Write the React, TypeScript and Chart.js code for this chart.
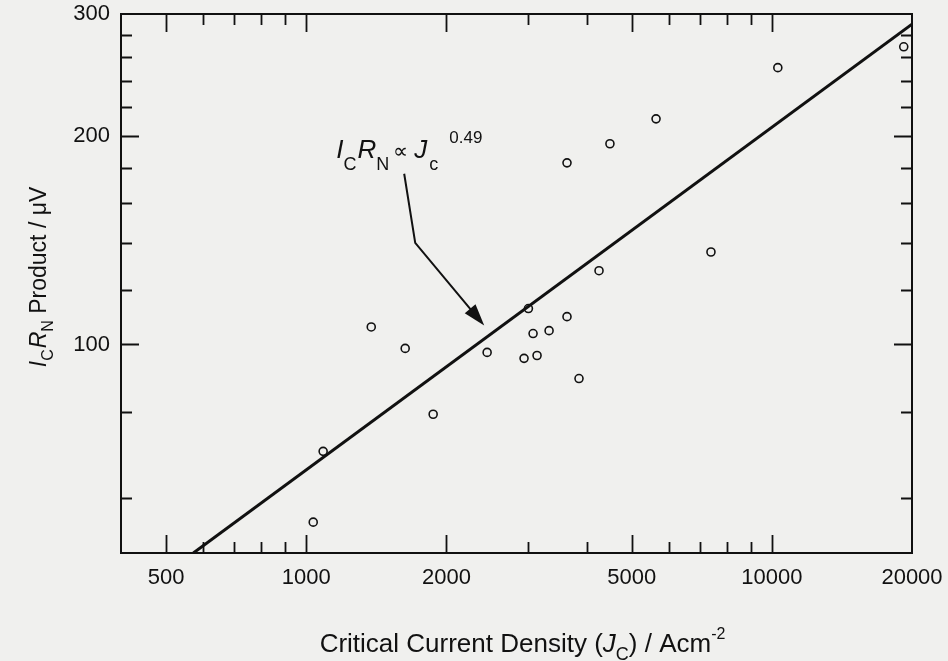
import React, { useEffect, useRef } from "react";
import { Chart, registerables } from "chart.js";

Chart.register(...registerables);

// ---- data ----
const currentDensity = [1087, 1035, 1379, 1631, 1873, 2446, 2936, 3000, 3070, 3131, 3323, 3631, 3853, 3631, 4254, 4490, 5640, 7400, 10300, 19200];
const icrnProduct = [70.1, 55.4, 106, 98.7, 79.3, 97.4, 95.5, 112.7, 103.7, 96.4, 104.7, 109.7, 89.3, 182.9, 127.8, 194.9, 211.7, 136, 251, 269];

const fitJc = [572, 20000];
const fitIcRn = [50, 290];

const xTickLabels = [500, 1000, 2000, 5000, 10000, 20000];
const yTickLabels = [100, 200, 300];
const xMajorTicks = [500, 1000, 2000, 5000, 10000];
const xMinorTicks = [600, 700, 800, 900, 3000, 4000, 6000, 7000, 8000, 9000];
const yMajorTicks = [100, 200];
const yMinorTicks = [60, 80, 120, 140, 160, 180, 220, 240, 260, 280];

// annotation anchors (data coordinates)
const arrowJc = [1623, 1714, 2411];
const arrowIcRn = [176.4, 140.2, 106.5];
const labelJc = 1160;
const labelIcRn = 185.9;

const FAM = '"Liberation Sans", Arial, Helvetica, sans-serif';
const INK = "#111111";
const PAPER = "#f0f0ee";

type Seg = { t: string; f: string; dy?: number; dx?: number };

function segsWidth(ctx: CanvasRenderingContext2D, segs: Seg[]) {
  let w = 0;
  for (const s of segs) {
    ctx.font = s.f;
    w += (s.dx || 0) + ctx.measureText(s.t).width;
  }
  return w;
}
function drawSegs(ctx: CanvasRenderingContext2D, segs: Seg[], x: number, y: number) {
  let cx = x;
  for (const s of segs) {
    ctx.font = s.f;
    cx += s.dx || 0;
    ctx.fillText(s.t, cx, y + (s.dy || 0));
    cx += ctx.measureText(s.t).width;
  }
}

const framePlugin = {
  id: "framePlugin",
  beforeDraw(chart: any) {
    const ctx = chart.ctx;
    ctx.save();
    ctx.fillStyle = PAPER;
    ctx.fillRect(0, 0, chart.width, chart.height);
    ctx.restore();
  },
  afterDraw(chart: any) {
    const ctx: CanvasRenderingContext2D = chart.ctx;
    const { left, right, top, bottom } = chart.chartArea;
    const xs = chart.scales.x;
    const ys = chart.scales.y;
    ctx.save();
    ctx.strokeStyle = INK;
    ctx.fillStyle = INK;
    ctx.lineWidth = 2;
    ctx.strokeRect(left, top, right - left, bottom - top);

    const MAJ = 18;
    const MIN = 11;
    ctx.lineWidth = 1.8;
    ctx.beginPath();
    const xt = (vals: number[], len: number) => {
      for (const v of vals) {
        const px = Math.round(xs.getPixelForValue(v)) + 0.5;
        ctx.moveTo(px, bottom);
        ctx.lineTo(px, bottom - len);
        ctx.moveTo(px, top);
        ctx.lineTo(px, top + len);
      }
    };
    const yt = (vals: number[], len: number) => {
      for (const v of vals) {
        const py = Math.round(ys.getPixelForValue(v)) + 0.5;
        ctx.moveTo(left, py);
        ctx.lineTo(left + len, py);
        ctx.moveTo(right, py);
        ctx.lineTo(right - len, py);
      }
    };
    xt(xMajorTicks, MAJ);
    xt(xMinorTicks, MIN);
    yt(yMajorTicks, MAJ);
    yt(yMinorTicks, MIN);
    ctx.stroke();

    // arrow
    const pts = arrowJc.map((v, i) => [xs.getPixelForValue(v), ys.getPixelForValue(arrowIcRn[i])]);
    ctx.lineWidth = 2;
    ctx.beginPath();
    ctx.moveTo(pts[0][0], pts[0][1]);
    const tip = pts[pts.length - 1];
    const prev = pts[pts.length - 2];
    const ang = Math.atan2(tip[1] - prev[1], tip[0] - prev[0]);
    const hl = 22;
    const hw = 7;
    for (let i = 1; i < pts.length - 1; i++) ctx.lineTo(pts[i][0], pts[i][1]);
    ctx.lineTo(tip[0] - Math.cos(ang) * hl * 0.8, tip[1] - Math.sin(ang) * hl * 0.8);
    ctx.stroke();
    ctx.beginPath();
    ctx.moveTo(tip[0], tip[1]);
    ctx.lineTo(tip[0] - Math.cos(ang) * hl + Math.sin(ang) * hw, tip[1] - Math.sin(ang) * hl - Math.cos(ang) * hw);
    ctx.lineTo(tip[0] - Math.cos(ang) * hl - Math.sin(ang) * hw, tip[1] - Math.sin(ang) * hl + Math.cos(ang) * hw);
    ctx.closePath();
    ctx.fill();

    // annotation text
    ctx.textBaseline = "alphabetic";
    ctx.textAlign = "left";
    const big = `italic 26px ${FAM}`;
    const sub = `18px ${FAM}`;
    const ann: Seg[] = [
      { t: "I", f: big },
      { t: "C", f: sub, dy: 12, dx: 0 },
      { t: "R", f: big, dx: 1 },
      { t: "N", f: sub, dy: 12 },
      { t: "\u221D", f: `21px ${FAM}`, dx: 4 },
      { t: "J", f: big, dx: 6 },
      { t: "c", f: sub, dy: 12, dx: 2 },
      { t: "0.49", f: `17px ${FAM}`, dy: -15, dx: 11 },
    ];
    drawSegs(ctx, ann, xs.getPixelForValue(labelJc), ys.getPixelForValue(labelIcRn));

    // x axis title
    const xf = `26px ${FAM}`;
    const xsub = `18px ${FAM}`;
    const xTitle: Seg[] = [
      { t: "Critical Current Density (", f: xf },
      { t: "J", f: `italic 26px ${FAM}` },
      { t: "C", f: xsub, dy: 8 },
      { t: ") / Acm", f: xf },
      { t: "-2", f: `16px ${FAM}`, dy: -13 },
    ];
    const xw = segsWidth(ctx, xTitle);
    drawSegs(ctx, xTitle, (left + right) / 2 + 6 - xw / 2, 652);

    // y axis title
    const yf = `23px ${FAM}`;
    const ysub = `16px ${FAM}`;
    const yTitle: Seg[] = [
      { t: "I", f: `italic 23px ${FAM}` },
      { t: "C", f: ysub, dy: 7 },
      { t: "R", f: `italic 23px ${FAM}`, dx: 1 },
      { t: "N", f: ysub, dy: 7 },
      { t: " Product / \u03BCV", f: yf },
    ];
    const yw = segsWidth(ctx, yTitle);
    ctx.translate(46, 277);
    ctx.rotate(-Math.PI / 2);
    drawSegs(ctx, yTitle, -yw / 2, 0);
    ctx.restore();
  },
};

export default function App() {
  const ref = useRef<HTMLCanvasElement | null>(null);
  useEffect(() => {
    document.body.style.margin = "0";
    document.body.style.background = PAPER;
    if (!ref.current) return;
    const tickFont = { family: FAM, size: 22 };
    const chart = new Chart(ref.current, {
      type: "scatter",
      data: {
        datasets: [
          {
            type: "line",
            label: "fit",
            data: fitJc.map((x, i) => ({ x, y: fitIcRn[i] })),
            borderColor: INK,
            borderWidth: 3,
            pointRadius: 0,
            fill: false,
          } as any,
          {
            label: "devices",
            data: currentDensity.map((x, i) => ({ x, y: icrnProduct[i] })),
            pointStyle: "circle",
            pointRadius: 4,
            borderColor: INK,
            borderWidth: 1.6,
            backgroundColor: "rgba(0,0,0,0)",
          },
        ],
      },
      plugins: [framePlugin],
      options: {
        animation: false,
        responsive: false,
        devicePixelRatio: 1,
        layout: { padding: { top: 14, right: 36, left: 0, bottom: 0 } },
        plugins: { legend: { display: false }, tooltip: { enabled: false }, title: { display: false } },
        scales: {
          x: {
            type: "logarithmic",
            min: 400,
            max: 20000,
            position: "bottom",
            grid: { display: false, drawTicks: false },
            border: { display: false },
            ticks: { font: tickFont, color: INK, padding: 12, autoSkip: false, maxRotation: 0, callback: (v: any) => String(v) },
            afterBuildTicks: (s: any) => {
              s.ticks = xTickLabels.map((v) => ({ value: v }));
            },
            afterFit: (s: any) => {
              s.height = 108;
              s.paddingLeft = 0;
              s.paddingRight = 0;
            },
          },
          y: {
            type: "logarithmic",
            min: 50,
            max: 300,
            position: "left",
            grid: { display: false, drawTicks: false },
            border: { display: false },
            ticks: { font: tickFont, color: INK, padding: 11, autoSkip: false, callback: (v: any) => String(v) },
            afterBuildTicks: (s: any) => {
              s.ticks = yTickLabels.map((v) => ({ value: v }));
            },
            afterFit: (s: any) => {
              s.width = 121;
              s.paddingTop = 0;
              s.paddingBottom = 0;
            },
          },
        },
      } as any,
    });
    return () => chart.destroy();
  }, []);
  return (
    <div style={{ width: 948, height: 661, background: PAPER }}>
      <canvas ref={ref} width={948} height={661} style={{ display: "block", width: 948, height: 661 }} />
    </div>
  );
}
